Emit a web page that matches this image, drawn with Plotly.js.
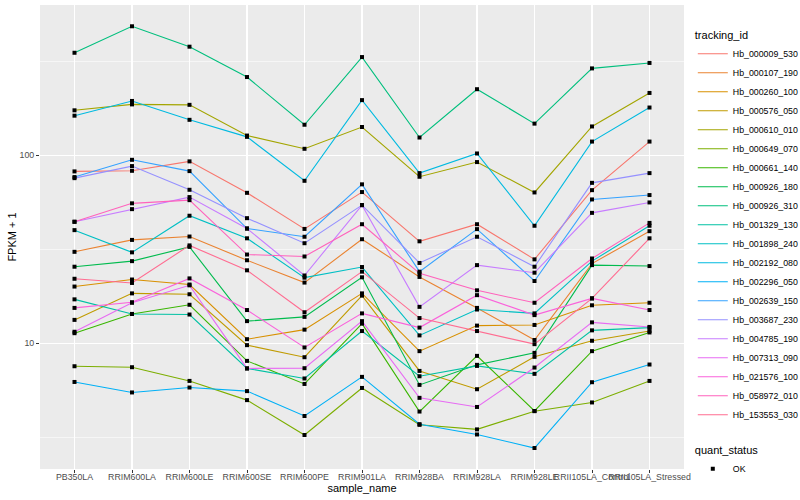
<!DOCTYPE html>
<html>
<head>
<meta charset="utf-8">
<script src="https://cdn.plot.ly/plotly-3.0.1.min.js"></script>
<style>html,body{margin:0;padding:0;background:#fff}#chart{width:800px;height:500px}</style>
</head>
<body>
<div id="chart"></div>
<script>
const categories = ['PB350LA','RRIM600LA','RRIM600LE','RRIM600SE','RRIM600PE','RRIM901LA','RRIM928BA','RRIM928LA','RRIM928LE','RRII105LA_Control','RRII105LA_Stressed'];

const trackingIds = ['Hb_000009_530','Hb_000107_190','Hb_000260_100','Hb_000576_050','Hb_000610_010','Hb_000649_070','Hb_000661_140','Hb_000926_180','Hb_000926_310','Hb_001329_130','Hb_001898_240','Hb_002192_080','Hb_002296_050','Hb_002639_150','Hb_003687_230','Hb_004785_190','Hb_007313_090','Hb_021576_100','Hb_058972_010','Hb_153553_030'];

const hb_000009_530 = [81.9, 82.5, 92.6, 63.0, 40.5, 63.6, 34.8, 42.9, 27.9, 65.1, 118];
const hb_000107_190 = [30.6, 35.4, 36.9, 27.6, 21.0, 35.7, 22.5, 15.4, 10.4, 26.5, 39.4];
const hb_000260_100 = [20.0, 21.8, 20.5, 10.5, 11.8, 18.4, 9.07, 12.4, 12.5, 15.9, 16.4];
const hb_000576_050 = [13.3, 18.4, 18.2, 9.76, 8.42, 17.9, 7.12, 5.69, 8.46, 10.3, 11.6];
const hb_000610_010 = [173, 186, 185, 127, 108, 141, 76.7, 91.8, 63.3, 142, 214];
const hb_000649_070 = [7.54, 7.45, 6.30, 4.98, 3.25, 5.78, 3.68, 3.48, 4.35, 4.84, 6.30];
const hb_000661_140 = [11.3, 14.3, 16.0, 8.05, 6.07, 12.7, 4.33, 8.56, 4.36, 9.07, 11.4];
const hb_000926_180 = [25.5, 27.3, 32.5, 13.1, 13.8, 22.4, 6.0, 7.67, 8.88, 26.0, 25.7];
const hb_000926_310 = [350, 484, 377, 260, 145, 332, 124, 224, 147, 289, 309];
const hb_001329_130 = [17.1, 14.3, 14.2, 7.34, 6.49, 11.6, 6.67, 7.57, 6.87, 11.7, 12.1];
const hb_001898_240 = [39.9, 30.4, 47.6, 36.1, 22.3, 25.4, 11.0, 15.1, 14.4, 27.3, 42.1];
const hb_002192_080 = [162, 194, 154, 125, 73.0, 196, 80.2, 102, 42.1, 118, 179];
const hb_002296_050 = [6.22, 5.47, 5.81, 5.56, 4.10, 6.62, 3.71, 3.27, 2.77, 6.20, 7.70];
const hb_002639_150 = [76.4, 94.4, 82.2, 40.7, 36.8, 69.9, 24.0, 40.4, 21.4, 58.1, 61.3];
const hb_003687_230 = [75.4, 87.4, 65.4, 46.2, 34.0, 54.2, 26.7, 36.8, 25.5, 71.2, 80.2];
const hb_004785_190 = [44.2, 51.6, 59.8, 40.7, 22.9, 54.2, 15.6, 26.0, 23.7, 49.3, 56.0];
const hb_007313_090 = [11.5, 16.4, 20.3, 7.34, 7.36, 13.1, 5.12, 4.58, 7.42, 12.9, 12.2];
const hb_021576_100 = [15.4, 16.5, 22.1, 15.0, 9.49, 14.4, 12.1, 18.0, 14.1, 17.3, 15.0];
const hb_058972_010 = [44.2, 55.4, 57.6, 29.6, 28.9, 42.9, 23.5, 19.1, 16.4, 28.2, 43.6];
const hb_153553_030 = [22.0, 20.9, 33.1, 24.4, 14.6, 24.0, 13.6, 11.6, 9.88, 17.3, 36.1];

const quantStatus = ['OK'];
const yTickVals = [10, 100];
const yTickText = ['10', '100'];
const yMinorVals = [3.1623, 31.623, 316.23];

const seriesValues = [hb_000009_530, hb_000107_190, hb_000260_100, hb_000576_050, hb_000610_010, hb_000649_070, hb_000661_140, hb_000926_180, hb_000926_310, hb_001329_130, hb_001898_240, hb_002192_080, hb_002296_050, hb_002639_150, hb_003687_230, hb_004785_190, hb_007313_090, hb_021576_100, hb_058972_010, hb_153553_030];

const colors = ['#F8766D','#EA8331','#D89000','#C09B00','#A3A500','#7CAE00','#39B600','#00BB4E','#00BF7D','#00C1A3','#00BFC4','#00BAE0','#00B0F6','#35A2FF','#9590FF','#C77CFF','#E76BF3','#FA62DB','#FF62BC','#FF6C91'];

const FONT = 'Liberation Sans, Arial, Helvetica, sans-serif';
const traces = [];
trackingIds.forEach((id, i) => {
  traces.push({
    type: 'scatter', mode: 'lines', x: categories, y: seriesValues[i], name: id,
    line: {color: colors[i], width: 1.1}, legend: 'legend', hoverinfo: 'x+y+name'
  });
});
const px = [], py = [];
seriesValues.forEach(vals => { vals.forEach((v, j) => { px.push(categories[j]); py.push(v); }); });
traces.push({
  type: 'scatter', mode: 'markers', x: px, y: py, name: quantStatus[0], legend: 'legend2',
  marker: {symbol: 'square', size: 4, color: '#000000'}, showlegend: true
});

const layout = {
  width: 800, height: 500,
  margin: {l: 40, r: 116, t: 5, b: 31},
  paper_bgcolor: '#FFFFFF', plot_bgcolor: '#EBEBEB',
  font: {family: FONT, color: '#000000'},
  showlegend: true,
  xaxis: {
    type: 'category', range: [-0.6, 10.6], categoryorder: 'array', categoryarray: categories,
    showgrid: true, gridcolor: '#FFFFFF', gridwidth: 1.1, zeroline: false, showline: false,
    ticks: 'outside', ticklen: 3, tickcolor: '#333333', tickwidth: 1, tickangle: 0,
    ticklabelstandoff: -4,
    tickfont: {size: 8.8, color: '#4D4D4D', family: FONT},
    title: {text: 'sample_name', font: {size: 11, color: '#000000', family: FONT}, standoff: 1},
    automargin: false
  },
  yaxis: {
    type: 'log', range: [0.331, 2.798],
    tickmode: 'array', tickvals: yTickVals, ticktext: yTickText,
    showgrid: true, gridcolor: '#FFFFFF', gridwidth: 1.1, zeroline: false, showline: false,
    ticks: 'outside', ticklen: 3, tickcolor: '#333333', tickwidth: 1,
    tickfont: {size: 8.8, color: '#4D4D4D', family: FONT},
    minor: {tickmode: 'array', tickvals: yMinorVals, showgrid: true, gridcolor: '#FFFFFF', gridwidth: 0.55, ticks: ''},
    title: {text: 'FPKM + 1', font: {size: 11, color: '#000000', family: FONT}, standoff: 0},
    automargin: false
  },
  legend: {
    title: {text: 'tracking_id', font: {size: 11, family: FONT}},
    font: {size: 8.8, family: FONT, color: '#000000'},
    xref: 'container', yref: 'container', x: 0.866, y: 0.95, xanchor: 'left', yanchor: 'top',
    bgcolor: 'rgba(0,0,0,0)', tracegroupgap: 0, itemwidth: 30, maxheight: 470
  },
  legend2: {
    title: {text: 'quant_status', font: {size: 11, family: FONT}},
    font: {size: 8.8, family: FONT, color: '#000000'},
    xref: 'container', yref: 'container', x: 0.866, y: 0.12, xanchor: 'left', yanchor: 'top',
    bgcolor: 'rgba(0,0,0,0)', itemwidth: 30
  }
};

Plotly.newPlot('chart', traces, layout, {displayModeBar: false, staticPlot: true});
</script>
</body>
</html>
